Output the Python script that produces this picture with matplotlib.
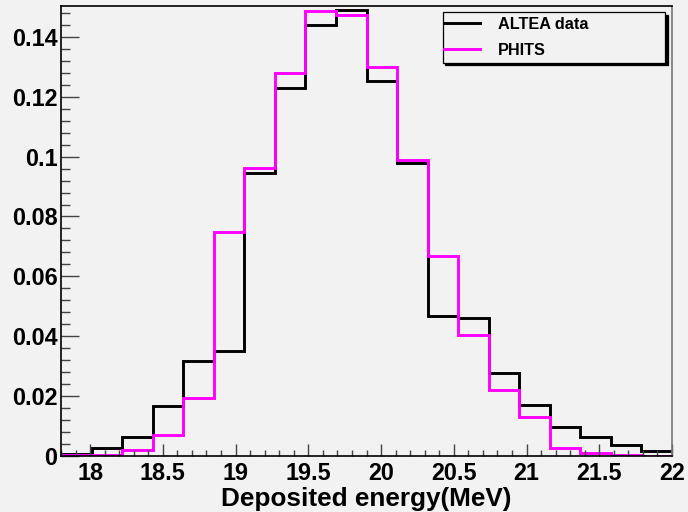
import numpy as np
import matplotlib
matplotlib.use('Agg')
import matplotlib.pyplot as plt
from matplotlib.ticker import MultipleLocator
from matplotlib.lines import Line2D
from matplotlib.legend_handler import HandlerLine2D

# histogram binning (20 bins between 17.8 and 22 MeV)
x_min, x_max, n_bins = 17.8, 22.0, 20

altea = [0.0008, 0.0028, 0.0064, 0.0166, 0.0318, 0.0352, 0.0946, 0.1230,
         0.1441, 0.1490, 0.1253, 0.0977, 0.0466, 0.0461, 0.0277, 0.0170,
         0.0098, 0.0064, 0.0037, 0.0017]
phits = [0.0002, 0.0004, 0.0020, 0.0070, 0.0193, 0.0747, 0.0963, 0.1280,
         0.1486, 0.1472, 0.1298, 0.0988, 0.0669, 0.0404, 0.0221, 0.0129,
         0.0026, 0.0011, 0.0003, 0.0001]
labels = ['ALTEA data', 'PHITS']

plt.rcParams['font.family'] = ['Liberation Sans', 'DejaVu Sans']
plt.rcParams['font.weight'] = 'bold'

bg = '#f2f2f2'
fig = plt.figure(figsize=(6.88, 5.12), dpi=100, facecolor=bg)
ax = fig.add_axes([61/688, 56/512, 611/688, 449.7/512], facecolor=bg)

edges = np.linspace(x_min, x_max, n_bins + 1)
ax.stairs(altea, edges, color='black', lw=2.1, label=labels[0], baseline=None)
ax.stairs(phits, edges, color='#ff00ff', lw=2.1, label=labels[1], baseline=None)

ax.set_xlim(x_min, x_max)
ax.set_ylim(0, 0.1502)

ax.xaxis.set_major_locator(MultipleLocator(0.5))
ax.xaxis.set_minor_locator(MultipleLocator(0.1))
ax.yaxis.set_major_locator(MultipleLocator(0.02))
ax.yaxis.set_minor_locator(MultipleLocator(0.004))
ax.yaxis.set_major_formatter(plt.FuncFormatter(lambda v, p: '0' if v == 0 else ('%g' % round(v, 3))))
ax.xaxis.set_major_formatter(plt.FuncFormatter(lambda v, p: '%g' % round(v, 2)))

ax.tick_params(axis='x', which='major', direction='in', length=9, width=1, color='#444444',
               labelsize=16.8, pad=4.3)
ax.tick_params(axis='x', which='minor', direction='in', length=4.5, width=1, color='#444444')
ax.tick_params(axis='y', which='major', direction='in', length=13, width=1, color='#444444',
               labelsize=16.8, pad=2.5)
ax.tick_params(axis='y', which='minor', direction='in', length=6.5, width=1, color='#444444')
for lab in ax.get_xticklabels() + ax.get_yticklabels():
    lab.set_fontweight('bold')

for s in ['left', 'bottom', 'top']:
    ax.spines[s].set_color('black')
    ax.spines[s].set_linewidth(1.2)
ax.spines['right'].set_color('#777777')
ax.spines['right'].set_linewidth(1.2)

ax.set_xlabel('Deposited energy(MeV)', fontsize=18.8, fontweight='bold', labelpad=1.5)

# legend: stairs are drawn as lines in the legend, like ROOT's "l" option
handles = [Line2D([], [], color='black', lw=2.1), Line2D([], [], color='#ff00ff', lw=2.1)]
leg = ax.legend(handles, labels, loc='upper left',
                bbox_to_anchor=(0.6247, 0.8746, 0.3638, 0.1121),
                mode='expand', borderaxespad=0, fancybox=False, framealpha=1,
                edgecolor='black', facecolor=bg, prop={'size': 11.7, 'weight': 'bold'},
                handlelength=2.0, handletextpad=1.1, labelspacing=0.65,
                borderpad=0.3, shadow={'color': 'black', 'alpha': 1, 'ox': 2, 'oy': -2},
                handler_map={Line2D: HandlerLine2D(xpad=-0.25)})
leg.get_frame().set_linewidth(0.9)

fig.savefig('out.png', dpi=100, facecolor=bg)
